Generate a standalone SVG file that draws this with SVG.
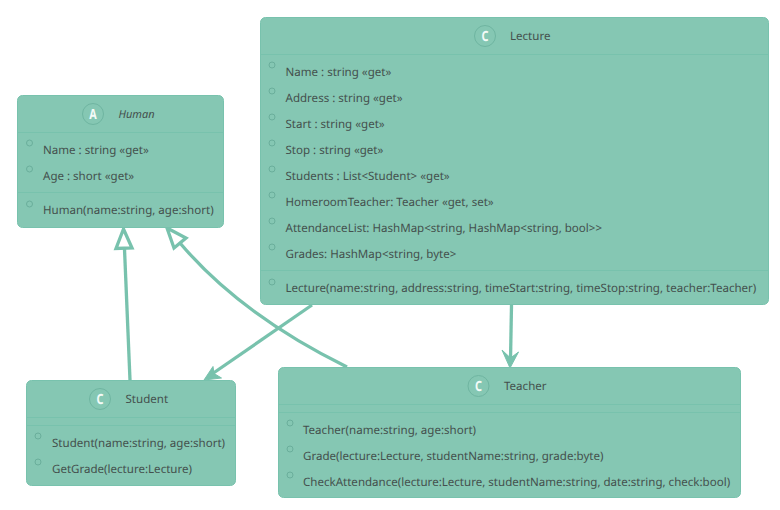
<svg xmlns="http://www.w3.org/2000/svg" width="780" height="510" viewBox="0 0 780 510">
<style>
text{font-family:"Noto Sans","Open Sans",sans-serif;font-size:11.55px;fill:#44504d;text-rendering:geometricPrecision}
.box{fill:#85c7b3;stroke:#78c2ad;stroke-width:1}
.sep{stroke:#78c2ad;stroke-width:1;fill:none}
.dot{fill:none;stroke:#6aae9b;stroke-width:1}
.icon{fill:#85c7b3;stroke:#6fb5a1;stroke-width:1}
.glyph{font-size:14px;font-weight:700;fill:#f4fbf8;text-anchor:middle}
.edge{fill:none;stroke:#78c2ad;stroke-width:3.300}
.hollow{fill:#fff;stroke:#78c2ad;stroke-width:3.300}
.solid{fill:#78c2ad;stroke:#78c2ad;stroke-width:1}
</style>
<g id="connectors">
<path class="edge" d="M130 380L124.500 249"/>
<path class="hollow" d="M123.500 229L116 248.500L132 248Z"/>
<path class="edge" d="M347 367C292 340 230 302 180 243"/>
<path class="hollow" d="M167 228L174 248L186 238Z"/>
<path class="edge" d="M312 305L212 374"/>
<path class="solid" d="M204 380L213 366.500L214 373.500L221.500 378Z"/>
<path class="edge" d="M511.500 305L510.500 360"/>
<path class="solid" d="M510 368L502 350L510.500 358L518.500 352Z"/>
</g>
<g id="Human">
<rect class="box" x="17.500" y="95.500" width="206" height="132" rx="5"/>
<path class="sep" d="M17.500 132.500H223.500M17.500 192.500H223.500"/>
<circle class="icon" cx="93" cy="114" r="10.500"/>
<text class="glyph" x="93" y="119" textLength="7.500" lengthAdjust="spacingAndGlyphs">A</text>
<text x="118.500" y="118" font-style="italic" style="font-size:11px">Human</text>
<circle class="dot" cx="29.500" cy="143" r="3"/>
<text x="43" y="154">Name : string «get»</text>
<circle class="dot" cx="29.500" cy="169" r="3"/>
<text x="43" y="180">Age : short «get»</text>
<circle class="dot" cx="29.500" cy="204" r="3"/>
<text x="43" y="214">Human(name:string, age:short)</text>
</g>
<g id="Lecture">
<rect class="box" x="260.500" y="17.500" width="508" height="287" rx="5"/>
<path class="sep" d="M260.500 54.500H768.500M260.500 270.500H768.500"/>
<circle class="icon" cx="485" cy="36" r="10.500"/>
<text class="glyph" x="485" y="41" textLength="7" lengthAdjust="spacingAndGlyphs">C</text>
<text x="510" y="40">Lecture</text>
<circle class="dot" cx="272" cy="65" r="3"/>
<text x="285.500" y="76">Name : string «get»</text>
<circle class="dot" cx="272" cy="91" r="3"/>
<text x="285.500" y="102">Address : string «get»</text>
<circle class="dot" cx="272" cy="117" r="3"/>
<text x="285.500" y="128">Start : string «get»</text>
<circle class="dot" cx="272" cy="143" r="3"/>
<text x="285.500" y="154">Stop : string «get»</text>
<circle class="dot" cx="272" cy="169" r="3"/>
<text x="285.500" y="180">Students : List&lt;Student&gt; «get»</text>
<circle class="dot" cx="272" cy="195" r="3"/>
<text x="285.500" y="206">HomeroomTeacher: Teacher «get, set»</text>
<circle class="dot" cx="272" cy="221" r="3"/>
<text x="285.500" y="232">AttendanceList: HashMap&lt;string, HashMap&lt;string, bool&gt;&gt;</text>
<circle class="dot" cx="272" cy="247" r="3"/>
<text x="285.500" y="258">Grades: HashMap&lt;string, byte&gt;</text>
<circle class="dot" cx="272" cy="282" r="3"/>
<text x="285.500" y="292">Lecture(name:string, address:string, timeStart:string, timeStop:string, teacher:Teacher)</text>
</g>
<g id="Student">
<rect class="box" x="26.500" y="380.500" width="209" height="105" rx="5"/>
<path class="sep" d="M26.500 417.500H235.500M26.500 425.500H235.500"/>
<circle class="icon" cx="100" cy="399" r="10.500"/>
<text class="glyph" x="100" y="404" textLength="7" lengthAdjust="spacingAndGlyphs">C</text>
<text x="125.500" y="403">Student</text>
<circle class="dot" cx="38" cy="436" r="3"/>
<text x="52" y="447">Student(name:string, age:short)</text>
<circle class="dot" cx="38" cy="462" r="3"/>
<text x="52" y="473">GetGrade(lecture:Lecture)</text>
</g>
<g id="Teacher">
<rect class="box" x="278.500" y="367.500" width="462" height="130" rx="5"/>
<path class="sep" d="M278.500 404.500H740.500M278.500 412.500H740.500"/>
<circle class="icon" cx="478.500" cy="386" r="10.500"/>
<text class="glyph" x="478.500" y="391" textLength="7" lengthAdjust="spacingAndGlyphs">C</text>
<text x="504" y="390">Teacher</text>
<circle class="dot" cx="290" cy="423" r="3"/>
<text x="303" y="434">Teacher(name:string, age:short)</text>
<circle class="dot" cx="290" cy="449" r="3"/>
<text x="303" y="460">Grade(lecture:Lecture, studentName:string, grade:byte)</text>
<circle class="dot" cx="290" cy="475" r="3"/>
<text x="303" y="486">CheckAttendance(lecture:Lecture, studentName:string, date:string, check:bool)</text>
</g>
</svg>
